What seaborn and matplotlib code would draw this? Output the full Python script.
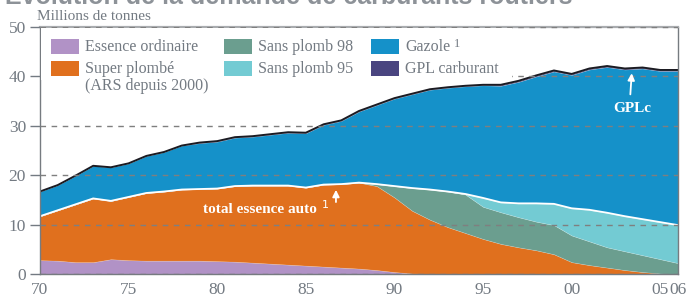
import numpy as np
import pandas as pd
import seaborn as sns
import matplotlib.pyplot as plt
from matplotlib.patches import Rectangle

years = list(range(1970, 2007))

# millions de tonnes
ordinaire = [2.8, 2.7, 2.4, 2.4, 3.0, 2.8, 2.7, 2.7, 2.7, 2.7, 2.6, 2.5, 2.3, 2.1, 1.9, 1.7, 1.5, 1.3, 1.1, 0.8,
             0.4, 0.1] + [0.0] * 15
super_plombe = [8.9, 10.2, 11.7, 12.9, 11.8, 12.8, 13.7, 14.0, 14.4, 14.5, 14.7, 15.3, 15.6, 15.8, 16.0, 15.8, 16.6,
                16.9, 17.4, 17.0, 15.1, 12.7, 11.0, 9.5, 8.3, 7.1, 6.1, 5.4, 4.8, 4.0, 2.4, 1.8, 1.3, 0.8, 0.4, 0.1, 0.0]
sans_plomb_98 = [0.0] * 19 + [0.4, 2.3, 4.6, 6.1, 7.2, 7.8, 6.5, 6.4, 6.1, 5.8, 5.9, 5.4, 4.8, 4.1, 3.8, 3.4, 2.9, 2.2]
sans_plomb_95 = [0.0] * 24 + [0.1, 1.8, 2.0, 2.8, 3.7, 4.3, 5.5, 6.4, 7.0, 7.1, 7.3, 7.5, 7.7]
gazole = [5.0, 5.1, 5.8, 6.6, 6.8, 6.8, 7.5, 8.0, 8.9, 9.3, 9.5, 9.8, 9.9, 10.3, 10.7, 11.0, 12.1, 12.8, 14.4, 16.0,
          17.7, 19.0, 20.2, 21.0, 21.8, 22.8, 23.6, 24.6, 25.7, 26.8, 27.0, 28.4, 29.5, 29.7, 30.5, 30.6, 31.2]
gpl = [0.0] * 9 + [0.1] * 17 + [0.2] * 11

tick_years = [1970, 1975, 1980, 1985, 1990, 1995, 2000, 2005, 2006]
tick_labels = ['70', '75', '80', '85', '90', '95', '00', '05', '06']

labels = ['Essence ordinaire', 'Super plombé\n(ARS depuis 2000)', 'Sans plomb 98', 'Sans plomb 95',
          'Gazole', 'GPL carburant']
colors = ['#b192c6', '#e0701e', '#6b9e8f', '#73cbd3', '#1591c9', '#4a4580']

df = pd.DataFrame({'annee': years, 'ordinaire': ordinaire, 'super': super_plombe, 'sp98': sans_plomb_98,
                   'sp95': sans_plomb_95, 'gazole': gazole, 'gpl': gpl})
df['essence'] = df[['ordinaire', 'super', 'sp98', 'sp95']].sum(axis=1)
df['total'] = df['essence'] + df['gazole'] + df['gpl']

sns.set_theme(style='white')
plt.rcParams['font.family'] = ['Liberation Serif', 'DejaVu Serif']
grey = '#737a82'

fig = plt.figure(figsize=(6.86, 2.97), dpi=100)
ax = fig.add_axes([40 / 686, 1 - 274 / 297, 638 / 686, 247 / 297])

layers = [df['ordinaire'], df['super'], df['sp98'], df['sp95'], df['gazole'], df['gpl']]
ax.stackplot(df['annee'], *layers, colors=colors, edgecolor='#ffffff40', linewidth=0.4)
sns.lineplot(data=df, x='annee', y='essence', color='white', lw=1.3, ax=ax)
sns.lineplot(data=df, x='annee', y='total', color='#1b1b22', lw=1.4, ax=ax)

ax.set_xlim(1970, 2006)
ax.set_ylim(0, 50)
ax.set_yticks([0, 10, 20, 30, 40, 50])
ax.set_xticks(tick_years)
ax.set_xticklabels(tick_labels)
ax.set_xlabel('')
ax.set_ylabel('')
ax.tick_params(axis='y', length=7, width=1, color=grey, pad=3, labelsize=12.5, labelcolor=grey, left=True)
ax.tick_params(axis='x', length=0, pad=6, labelsize=12.5, labelcolor=grey)

ax.set_axisbelow(False)
ax.yaxis.grid(True, linestyle=(0, (4, 4)), color='#7f7f7f', lw=1)
ax.xaxis.grid(False)
for s in ['left', 'bottom', 'right']:
    ax.spines[s].set_color('#767b80')
    ax.spines[s].set_linewidth(1)
ax.spines['top'].set_color('#a9acaf')
ax.spines['top'].set_linewidth(1.6)

# légende faite à la main (fond blanc au-dessus de la grille, sans cacher les aires)
px = lambda x: (x - 40) / 638
py = lambda y: (274 - y) / 247
ax.add_patch(Rectangle((px(41), py(80)), px(512) - px(41), py(28) - py(80), transform=ax.transAxes,
                       facecolor='white', edgecolor='none', zorder=2.7))
hx = [51, 51, 224, 224, 371, 371]
hy = [54, 76, 54, 76, 54, 76]
for i, lab in enumerate(labels):
    ax.add_patch(Rectangle((px(hx[i]), py(hy[i])), px(hx[i] + 28) - px(hx[i]), py(hy[i] - 15) - py(hy[i]),
                           transform=ax.transAxes, facecolor=colors[i], edgecolor='none', zorder=3))
    if '\n' in lab:
        ax.text(px(85), py(61), lab, transform=ax.transAxes, fontsize=11.5, color=grey,
                va='top', ha='left', zorder=3, linespacing=1.05)
    else:
        ax.text(px(hx[i] + 34), py(hy[i] - 7), lab, transform=ax.transAxes, fontsize=11.5, color=grey,
                va='center', ha='left', zorder=3)
ax.text(px(457), py(44), '1', transform=ax.transAxes, fontsize=9, color=grey, ha='center', va='center', zorder=3)

# annotations
ax.annotate('', xy=(1986.7, 17.6), xytext=(1986.7, 14.0),
            arrowprops=dict(arrowstyle='-|>', color='white', lw=1.3, mutation_scale=10))
ax.text(1982.4, 13.0, 'total essence auto', color='white', fontsize=11, fontweight='bold', ha='center', va='center')
ax.text(1986.1, 13.9, '1', color='white', fontsize=8, ha='center', va='center', family=['DejaVu Sans'])
ax.annotate('', xy=(2003.4, 41.2), xytext=(2003.3, 35.8),
            arrowprops=dict(arrowstyle='-|>', color='white', lw=1.3, mutation_scale=10))
ax.text(2003.4, 33.6, 'GPLc', color='white', fontsize=11, fontweight='bold', ha='center', va='center')

fig.text(37 / 686, 1 - 16 / 297, 'Millions de tonnes', fontsize=11, color=grey, va='center')
fig.text(5 / 686, 1 - 4 / 297, 'Évolution de la demande de carburants routiers', fontsize=18, color='#8d9298',
         fontweight='bold', va='baseline', family=['Liberation Sans', 'DejaVu Sans'])

fig.savefig('out.png', dpi=100)
